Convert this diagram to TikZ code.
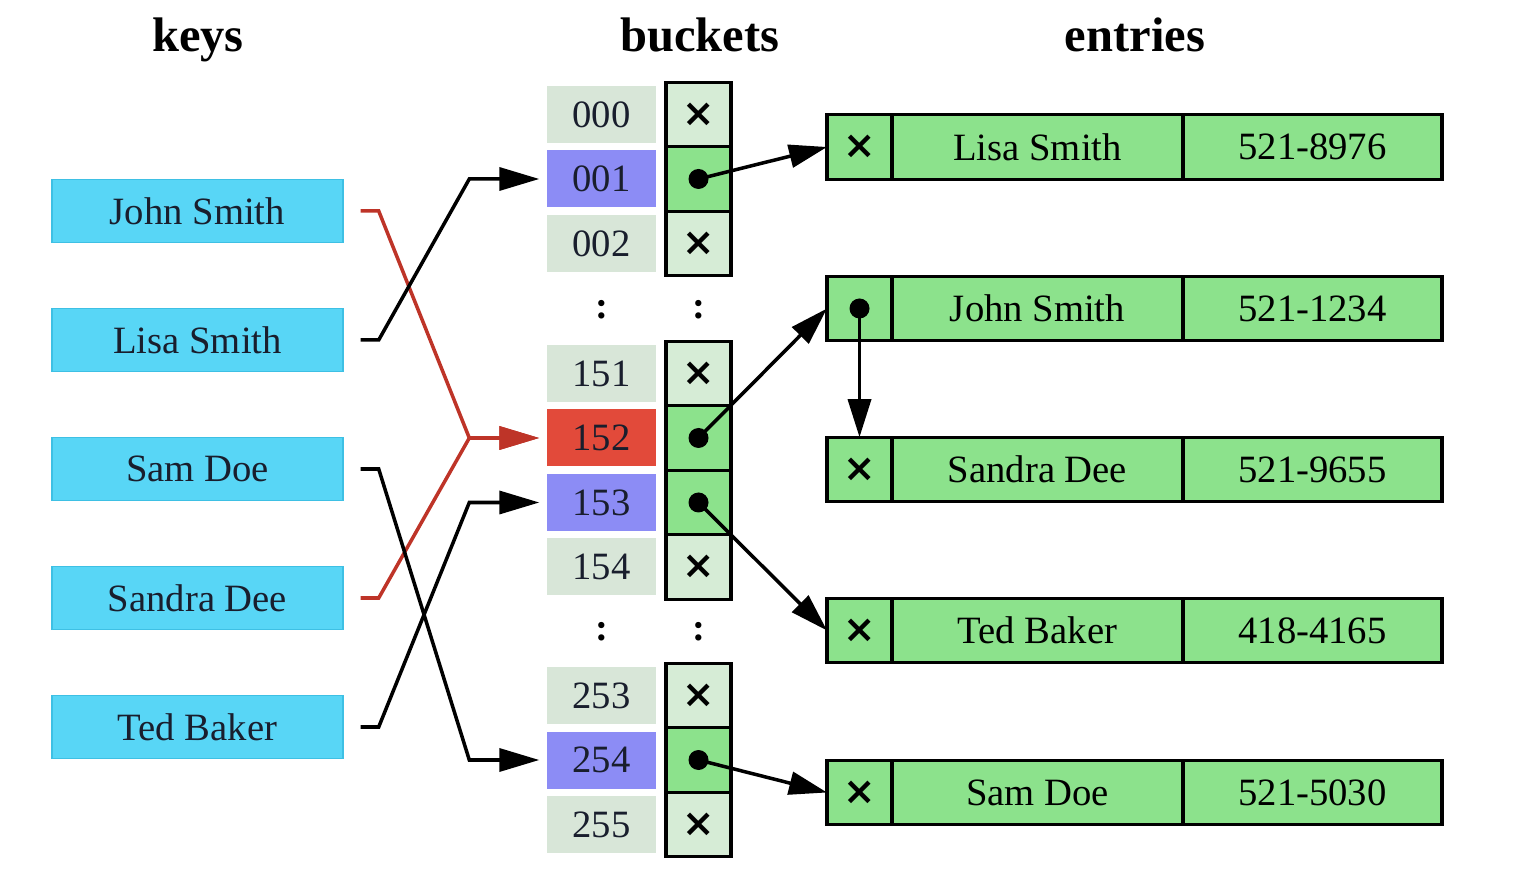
\documentclass[tikz,border=0pt]{standalone}
\usepackage{fontspec}
\setmainfont{Liberation Serif}
\newfontfamily\symfont{DejaVu Sans}
\usetikzlibrary{arrows.meta,positioning}
\definecolor{keycyan}{RGB}{88,214,246}
\definecolor{keyedge}{RGB}{62,192,228}
\definecolor{hitblue}{RGB}{140,140,245}
\definecolor{hotred}{RGB}{226,74,58}
\definecolor{idlegray}{RGB}{216,230,216}
\definecolor{cellpale}{RGB}{214,236,214}
\definecolor{cellgreen}{RGB}{140,226,140}
\definecolor{linkred}{RGB}{190,52,40}
\definecolor{inkdark}{RGB}{25,30,45}
\newcommand{\nix}{{\symfont\bfseries ×}}
\tikzset{
  keybox/.style={fill=keycyan,draw=keyedge,line width=0.4pt,minimum width=2.91cm,minimum height=0.63cm,text=inkdark},
  lblbox/.style={minimum width=1.09cm,minimum height=0.57cm,text=inkdark},
  cellbox/.style={draw,line width=0.9pt,minimum width=0.65cm,minimum height=0.645cm,outer sep=0pt,inner sep=0pt},
  entrybox/.style={cellbox,fill=cellgreen},
  head/.style={font=\fontsize{13.8}{16}\selectfont\bfseries,anchor=base},
  ptr/.style={-{Triangle[length=3.8mm,width=2.3mm]},line width=1pt},
  hashblack/.style={-{Triangle[length=4mm,width=2.3mm]},line width=1pt,shorten >=0.7mm},
  hashred/.style={hashblack,draw=linkred}
}
\begin{document}
\begin{tikzpicture}[font=\fontsize{11}{13}\selectfont]
\useasboundingbox (0,0) rectangle (15.28,-8.70);
% headings
\node[head] (hkeys) at (1.98,-0.52) {keys};
\node[head] (hbuckets) at (7.0,-0.52) {buckets};
\node[head] (hentries) at (11.35,-0.52) {entries};
% keys
\node[keybox] (kjohn) at (1.975,-2.11) {John Smith};
\node[keybox] (klisa) at (1.975,-3.40) {Lisa Smith};
\node[keybox] (ksam) at (1.975,-4.69) {Sam Doe};
\node[keybox] (ksandra) at (1.975,-5.98) {Sandra Dee};
\node[keybox] (kted) at (1.975,-7.27) {Ted Baker};
% buckets
\foreach \num/\y/\lblcol/\cellcol/\sym in {
  000/1.145/idlegray/cellpale/\nix, 001/1.79/hitblue/cellgreen/{}, 002/2.435/idlegray/cellpale/\nix,
  151/3.735/idlegray/cellpale/\nix, 152/4.38/hotred/cellgreen/{}, 153/5.025/hitblue/cellgreen/{},
  154/5.67/idlegray/cellpale/\nix, 253/6.955/idlegray/cellpale/\nix, 254/7.60/hitblue/cellgreen/{},
  255/8.245/idlegray/cellpale/\nix}{
  \node[lblbox,fill=\lblcol] (l\num) at (6.015,-\y) {\num};
  \node[cellbox,fill=\cellcol] (c\num) at (6.985,-\y) {\sym};
}
\node (gapa) at (6.015,-3.10) {\bfseries :};
\node (gapb) at (6.985,-3.10) {\bfseries :};
\node (gapc) at (6.015,-6.32) {\bfseries :};
\node (gapd) at (6.985,-6.32) {\bfseries :};
% entries
\foreach \row/\y/\sym/\who/\tel in {
  lisa/1.47/\nix/Lisa Smith/521-8976, john/3.085/{}/John Smith/521-1234,
  sandra/4.695/\nix/Sandra Dee/521-9655, ted/6.305/\nix/Ted Baker/418-4165,
  sam/7.925/\nix/Sam Doe/521-5030}{
  \node[entrybox,minimum width=0.65cm] (e\row) at (8.595,-\y) {\sym};
  \node[entrybox,minimum width=2.91cm,right=0pt of e\row] (n\row) {\who};
  \node[entrybox,minimum width=2.59cm,right=0pt of n\row] (t\row) {\tel};
}
% pointers
\foreach \c in {001,152,153,254} \fill (c\c.center) circle (1mm);
\fill (ejohn.center) circle (1mm);
\draw[ptr] (c001.center) -- (elisa.west);
\draw[ptr] (c152.center) -- (ejohn.west);
\draw[ptr] (c153.center) -- (eted.west);
\draw[ptr] (c254.center) -- (esam.west);
\draw[ptr] (ejohn.center) -- (esandra.north);
% hash function
\draw[hashred] ([xshift=1.7mm]kjohn.east) -- ++(1.8mm,0) -- ([xshift=-7.7mm]l152.west) -- (l152.west);
\draw[hashred] ([xshift=1.7mm]ksandra.east) -- ++(1.8mm,0) -- ([xshift=-7.7mm]l152.west) -- (l152.west);
\draw[hashblack] ([xshift=1.7mm]klisa.east) -- ++(1.8mm,0) -- ([xshift=-7.7mm]l001.west) -- (l001.west);
\draw[hashblack] ([xshift=1.7mm]ksam.east) -- ++(1.8mm,0) -- ([xshift=-7.7mm]l254.west) -- (l254.west);
\draw[hashblack] ([xshift=1.7mm]kted.east) -- ++(1.8mm,0) -- ([xshift=-7.7mm]l153.west) -- (l153.west);
\end{tikzpicture}
\end{document}
